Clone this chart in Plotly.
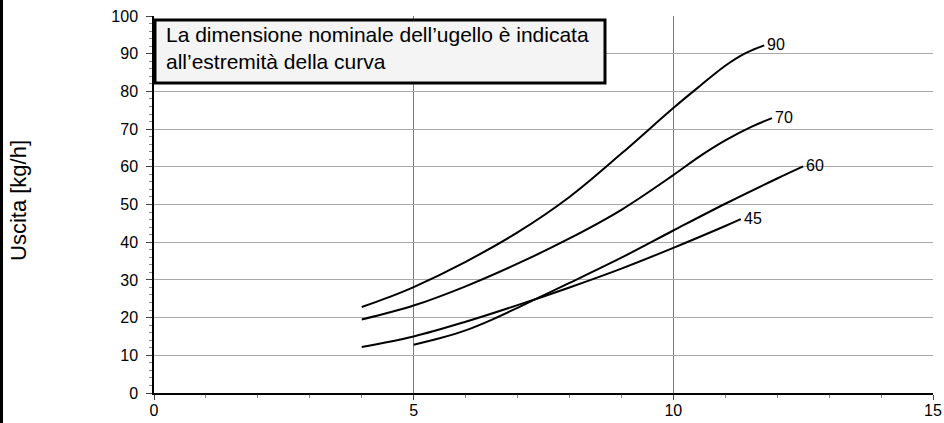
import plotly.graph_objects as go

# Nozzle output curves: pressure on x, output [kg/h] on y, one curve per nominal nozzle size
x_90 = [4.0, 4.5, 5.0, 6.0, 7.0, 8.0, 9.0, 10.0, 10.5, 11.0, 11.4, 11.75]
y_90 = [22.8, 25.3, 28.1, 34.8, 42.6, 52.0, 63.5, 75.6, 81.3, 86.8, 90.2, 92.2]

x_70 = [4.0, 5.0, 6.0, 7.0, 8.0, 9.0, 10.0, 10.5, 11.0, 11.5, 11.9]
y_70 = [19.5, 23.2, 28.3, 34.3, 41.0, 48.6, 57.8, 62.7, 67.0, 70.6, 72.9]

x_60 = [5.0, 5.5, 6.0, 6.5, 7.0, 7.5, 8.0, 9.0, 10.0, 11.0, 12.0, 12.5]
y_60 = [12.8, 14.5, 16.6, 19.4, 22.6, 25.9, 29.2, 35.9, 43.1, 50.2, 56.9, 60.1]

x_45 = [4.0, 5.0, 6.0, 7.0, 8.0, 9.0, 10.0, 11.0, 11.3]
y_45 = [12.2, 15.0, 18.9, 23.3, 28.0, 33.0, 38.5, 44.3, 46.1]

curves = [("90", x_90, y_90), ("70", x_70, y_70), ("60", x_60, y_60), ("45", x_45, y_45)]

x_ticks = [0, 5, 10, 15]
y_ticks = [0, 10, 20, 30, 40, 50, 60, 70, 80, 90, 100]

y_title = "Uscita [kg/h]"
note = "La dimensione nominale dell’ugello è indicata<br>all’estremità della curva"

FONT = "Liberation Sans, Arial, Helvetica, sans-serif"

fig = go.Figure()
for name, xs, ys in curves:
    fig.add_trace(go.Scatter(
        x=xs, y=ys, mode="lines", name=name,
        line=dict(color="black", width=2, shape="spline", smoothing=1.0),
        showlegend=False, hoverinfo="skip",
    ))
    # size label at the end of each curve
    fig.add_annotation(
        x=xs[-1], y=ys[-1], text=name, showarrow=False,
        xanchor="left", yanchor="middle", xshift=1, yshift=1,
        font=dict(family=FONT, size=16, color="black"),
    )

L, R, T, B = 154, 11, 16, 30
W, H = 944, 423
pw, ph = W - L - R, H - T - B

def px_x(p):
    return (p - L) / pw

def px_y(p):
    return (H - B - p) / ph

# note box in the upper left of the plot
fig.add_shape(
    type="rect", xref="paper", yref="paper",
    x0=px_x(155), x1=px_x(605), y0=px_y(83), y1=px_y(20),
    line=dict(color="black", width=3), fillcolor="#f4f4f4", layer="above",
)
fig.add_annotation(
    xref="paper", yref="paper", x=px_x(164), y=px_y(48),
    xanchor="left", yanchor="middle", align="left", showarrow=False,
    text=note, font=dict(family=FONT, size=21, color="black"),
)

# y axis title
fig.add_annotation(
    xref="paper", yref="paper", x=px_x(18), y=px_y(201),
    xanchor="center", yanchor="middle", textangle=-90, showarrow=False,
    text=y_title, font=dict(family=FONT, size=22, color="black"),
)

# dark strip along the left edge of the page
fig.add_shape(
    type="rect", xref="paper", yref="paper",
    x0=px_x(0), x1=px_x(3), y0=px_y(H), y1=px_y(0),
    line=dict(width=0), fillcolor="black", layer="above",
)

fig.update_layout(
    width=W, height=H,
    margin=dict(l=L, r=R, t=T, b=B, pad=0),
    paper_bgcolor="white", plot_bgcolor="white",
    font=dict(family=FONT, size=16, color="black"),
    xaxis=dict(
        range=[0, 15], tickvals=x_ticks, ticktext=[str(v) for v in x_ticks],
        automargin=False,
        showgrid=True, gridcolor="#7a7a7a", gridwidth=1,
        zeroline=False, showline=True, linecolor="black", linewidth=1.5,
        ticks="outside", ticklen=5, tickcolor="#444", tickwidth=1,
        ticklabelstandoff=-3,
        minor=dict(dtick=1, ticks="outside", ticklen=3, tickcolor="#888", showgrid=False),
        tickfont=dict(family=FONT, size=16, color="black"),
    ),
    yaxis=dict(
        range=[0, 100], tickvals=y_ticks, ticktext=[str(v) for v in y_ticks],
        automargin=False,
        showgrid=True, gridcolor="#a8a8a8", gridwidth=1.3,
        zeroline=False, showline=True, linecolor="black", linewidth=1.5,
        ticks="outside", ticklen=6, tickcolor="#444", tickwidth=1,
        ticklabelstandoff=5,
        minor=dict(dtick=2, ticks="outside", ticklen=3, tickcolor="#888", showgrid=False),
        tickfont=dict(family=FONT, size=16, color="black"),
    ),
)

fig.write_html(
    "out.html",
    post_script="document.body.style.margin='0';document.body.style.overflow='hidden';",
)
